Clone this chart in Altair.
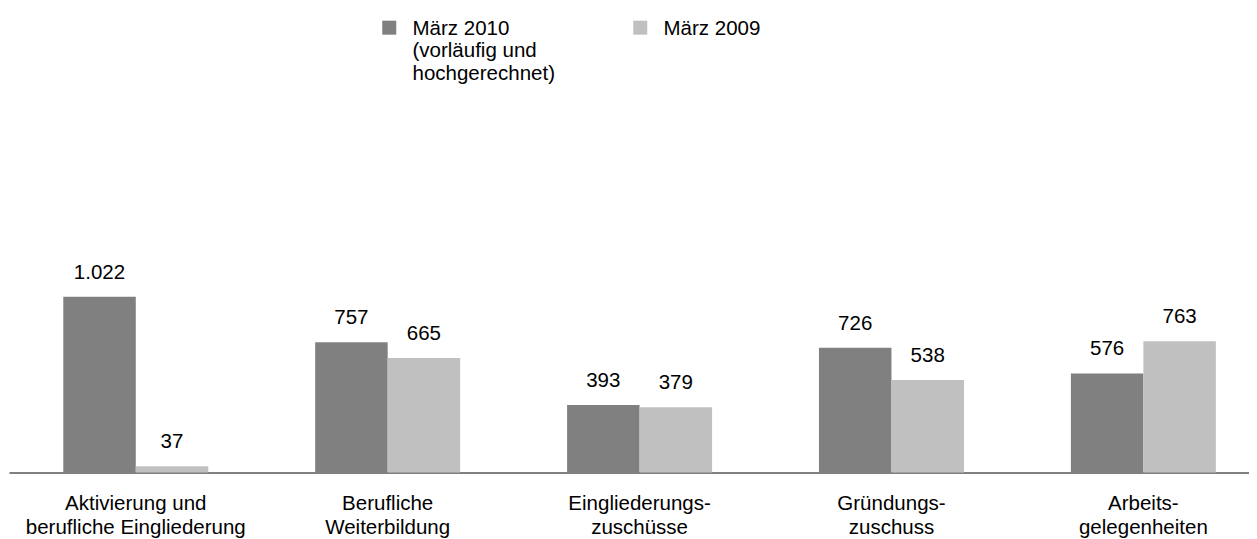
import altair as alt
import pandas as pd

categories = [
    "Aktivierung und\nberufliche Eingliederung",
    "Berufliche\nWeiterbildung",
    "Eingliederungs-\nzuschüsse",
    "Gründungs-\nzuschuss",
    "Arbeits-\ngelegenheiten",
]
series_names = ["März 2010\n(vorläufig und\nhochgerechnet)", "März 2009"]
values_2010 = [1022, 757, 393, 726, 576]
values_2009 = [37, 665, 379, 538, 763]
colors = ["#808080", "#C0C0C0"]

rows = []
for cat, v10, v09 in zip(categories, values_2010, values_2009):
    rows.append({"Kategorie": cat, "Reihe": series_names[0], "Wert": v10})
    rows.append({"Kategorie": cat, "Reihe": series_names[1], "Wert": v09})
df = pd.DataFrame(rows)
df["Label"] = df["Wert"].map(lambda v: f"{v:,}".replace(",", "."))

FONT = "Liberation Sans"
FS = 20.5

base = alt.Chart(df).encode(
    x=alt.X(
        "Kategorie:N",
        sort=categories,
        title=None,
        scale=alt.Scale(paddingInner=0.4244, paddingOuter=0.1735, align=0.621),
        axis=alt.Axis(
            labelExpr="split(datum.label, '\\n')",
            labelAngle=0,
            ticks=False,
            tickSize=0,
            labelPadding=21,
            labelFontSize=FS,
            labelFont=FONT,
            labelColor="#000000",
            labelLineHeight=23.5,
            labelLimit=400,
            domainColor="#808080",
            domainWidth=2,
            grid=False,
        ),
    ),
    xOffset=alt.XOffset("Reihe:N", sort=series_names, scale=alt.Scale(domain=series_names)),
    y=alt.Y("Wert:Q", scale=alt.Scale(domain=[0, 1100], nice=False), axis=None),
)

bars = base.mark_bar().encode(
    color=alt.Color(
        "Reihe:N",
        sort=series_names,
        scale=alt.Scale(domain=series_names, range=colors),
        legend=alt.Legend(
            title=None,
            orient="none",
            legendX=370,
            legendY=-275,
            direction="horizontal",
            columns=2,
            symbolType="M-1,0.286 L1,0.286 L1,2.286 L-1,2.286 Z",
            symbolSize=196,
            symbolStrokeWidth=0,
            symbolOpacity=1,
            labelExpr="slice(split(datum.label + '\\n \\n ', '\\n'), 0, 3)",
            labelFontSize=FS,
            labelFont=FONT,
            labelColor="#000000",
            labelBaseline="top",
            labelOffset=13,
            labelLimit=400,
            columnPadding=75,
            padding=0,
        ),
    )
)

texts = base.mark_text(
    dy=-18, baseline="alphabetic", fontSize=FS, font=FONT, color="#000000"
).encode(text="Label:N")

chart = (
    alt.layer(bars, texts)
    .properties(
        width=1240,
        height=189.2,
        autosize=alt.AutoSizeParams(type="none"),
        padding={"left": 1, "top": 275.3, "right": 0, "bottom": 66.5},
    )
    .configure(font=FONT)
    .configure_view(strokeWidth=0, stroke="transparent")
)

chart.save("out.html", embed_options={"renderer": "svg", "actions": False})
